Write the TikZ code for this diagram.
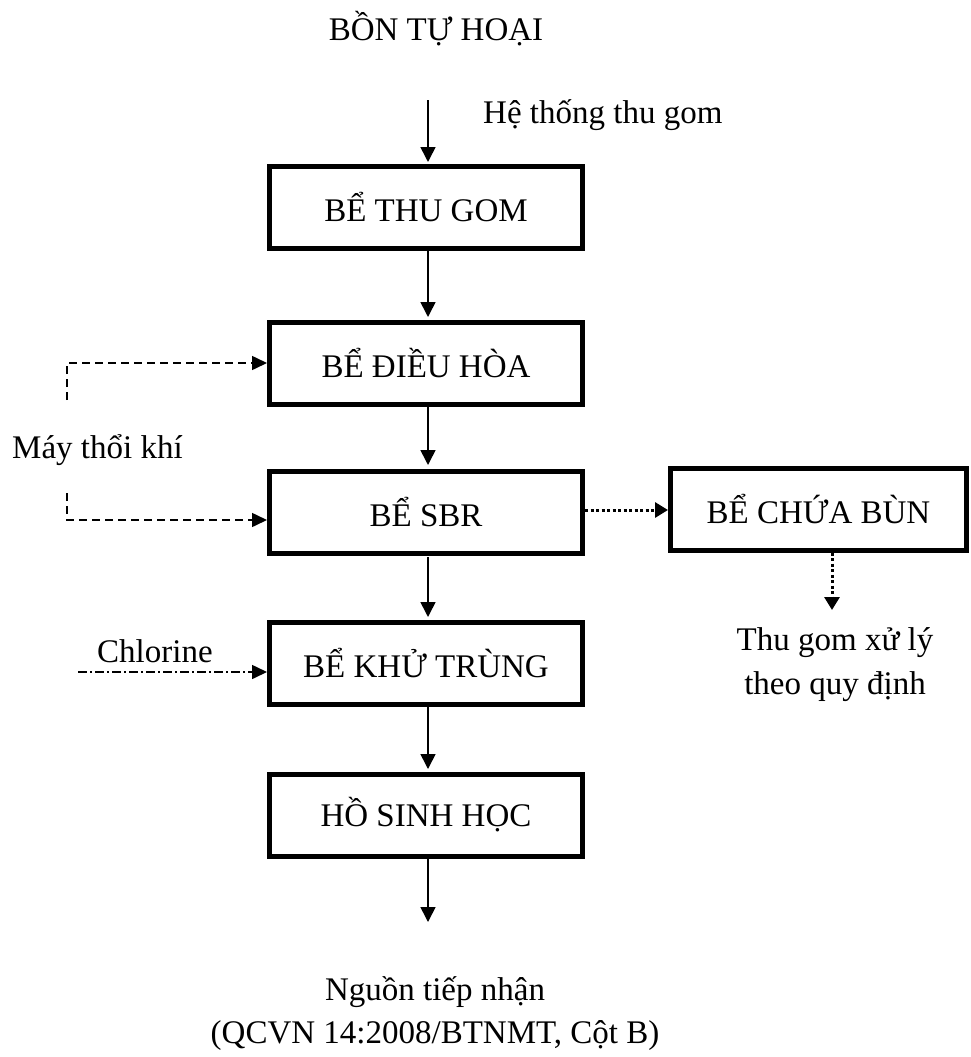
\documentclass[tikz,border=0pt]{standalone}
\usepackage{fontspec}
\setmainfont{Liberation Serif}
\usetikzlibrary{arrows.meta}
\begin{document}
\begin{tikzpicture}[x=1pt,y=-1pt,
  every node/.style={font=\fontsize{33}{44}\selectfont},
  tank/.style={draw,line width=5pt,minimum width=313pt,minimum height=82pt,inner sep=0pt,anchor=center},
  flow/.style={line width=1.6pt,-{Triangle[width=15pt,length=15pt]}},
  air/.style={line width=1.6pt,dash pattern=on 8pt off 5pt,-{Triangle[width=14pt,length=15pt]}},
  chem/.style={line width=1.6pt,dash pattern=on 9pt off 3pt on 2pt off 3pt,-{Triangle[width=14pt,length=15pt]}},
  sludge/.style={line width=3pt,dash pattern=on 3pt off 2.5pt,-{Triangle[width=15pt,length=13pt]}},
  lbl/.style={inner sep=0pt}]
\useasboundingbox (0,0) rectangle (971,1057);
\node[lbl,anchor=base] (src) at (436,41) {BỒN TỰ HOẠI};
\node[lbl,anchor=base west] (coll) at (483,123) {Hệ thống thu gom};
\coordinate (top) at (428,100);
\node[tank] (thugom) at (426,207.5) {BỂ THU GOM};
\node[tank] (dieuhoa) at (426,363.5) {BỂ ĐIỀU HÒA};
\node[tank] (sbr) at (426,512.5) {BỂ SBR};
\node[tank] (khu) at (426,663.5) {BỂ KHỬ TRÙNG};
\node[tank] (ho) at (426,815) {HỒ SINH HỌC};
\node[tank,minimum width=296pt] (bun) at (818.5,509) {BỂ CHỨA BÙN};
\node[lbl,anchor=base west] (may) at (12,458) {Máy thổi khí};
\node[lbl,anchor=base west] (chl) at (97,662) {Chlorine};
\node[lbl,anchor=base,align=center] (xl) at (835,650) {Thu gom xử lý};
\node[lbl,anchor=base] (xl2) at (835,694) {theo quy định};
\node[lbl,anchor=base] (out) at (435,1000) {Nguồn tiếp nhận};
\node[lbl,anchor=base] (out2) at (435,1043) {(QCVN 14:2008/BTNMT, Cột B)};
\coordinate (outend) at (428,922);
\coordinate (a1) at (67,400);
\coordinate (a2) at (67,493);
\coordinate (c1) at (78,672);
\coordinate (b1) at (832,610);
% main flow
\draw[flow] (top) -- (428,162);
\draw[flow] (428,250|-thugom.south) -- (428,317);
\draw[flow] (428,407) -- (428,465);
\draw[flow] (428,557) -- (428,617);
\draw[flow] (428,707) -- (428,769);
\draw[flow] (428,858) -- (outend);
% air
\draw[air] (a1) -- (67,363) -- (dieuhoa.west|-0,363);
\draw[air] (a2) -- (67,520) -- (sbr.west|-0,520);
% chlorine
\draw[chem] (c1) -- (khu.west|-0,672);
% sludge
\draw[sludge] (sbr.east|-0,510) -- (bun.west|-0,510);
\draw[sludge] (bun.south-|b1) -- (b1);
\end{tikzpicture}
\end{document}
